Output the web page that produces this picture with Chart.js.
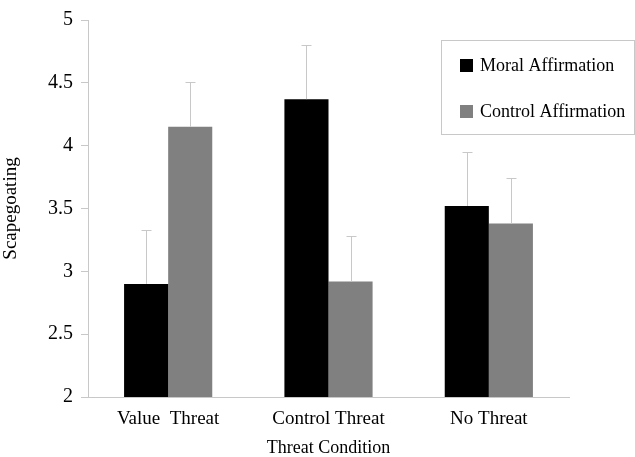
<!DOCTYPE html>
<html>
<head>
    <meta charset="UTF-8">
    <title>Scapegoating by Threat Condition</title>
    <script src="https://cdn.jsdelivr.net/npm/chart.js"></script>
    <style>
        html, body { margin: 0; padding: 0; background: #fff; }
        #wrap { width: 635px; height: 457px; }
    </style>
</head>
<body>
<div id="wrap"><canvas id="scapegoatChart" width="635" height="457"></canvas></div>
<script>
    // data
    var categories = ['Value  Threat', 'Control Threat', 'No Threat'];
    var moralMeans = [2.90, 4.37, 3.52];
    var moralUpper = [3.33, 4.80, 3.95];
    var controlMeans = [4.15, 2.92, 3.38];
    var controlUpper = [4.51, 3.28, 3.74];
    var yTicks = [2, 2.5, 3, 3.5, 4, 4.5, 5];

    var serif = '"Liberation Serif", "Times New Roman", serif';

    // upper error whiskers, drawn through the chart's scales
    var errorBars = {
        id: 'errorBars',
        afterDatasetsDraw: function(chart) {
            var ctx = chart.ctx;
            var y = chart.scales.y;
            var uppers = [moralUpper, controlUpper];
            ctx.save();
            ctx.strokeStyle = '#c8c8c8';
            ctx.lineWidth = 1;
            chart.data.datasets.forEach(function(ds, i) {
                var meta = chart.getDatasetMeta(i);
                meta.data.forEach(function(bar, j) {
                    var x = Math.round(bar.x) + 0.5;
                    var top = Math.round(y.getPixelForValue(uppers[i][j])) + 0.5;
                    ctx.beginPath();
                    ctx.moveTo(x, bar.y);
                    ctx.lineTo(x, top);
                    ctx.moveTo(x - 5, top);
                    ctx.lineTo(x + 5, top);
                    ctx.stroke();
                });
            });
            ctx.restore();
        }
    };

    // boxed legend in the upper right
    var boxLegend = {
        id: 'boxLegend',
        afterDraw: function(chart) {
            var ctx = chart.ctx;
            ctx.save();
            ctx.strokeStyle = '#c8c8c8';
            ctx.lineWidth = 1;
            ctx.strokeRect(441.5, 40.5, 193, 94);
            ctx.font = '18px ' + serif;
            ctx.textBaseline = 'middle';
            chart.data.datasets.forEach(function(ds, i) {
                var cy = 65 + i * 46;
                ctx.fillStyle = ds.backgroundColor;
                ctx.fillRect(460, cy - 6, 13, 13);
                ctx.fillStyle = '#000';
                ctx.fillText(ds.label, 480, cy + 1);
            });
            ctx.restore();
        }
    };

    var ctx = document.getElementById('scapegoatChart').getContext('2d');
    var scapegoatChart = new Chart(ctx, {
        type: 'bar',
        data: {
            labels: categories,
            datasets: [{
                label: 'Moral Affirmation',
                data: moralMeans,
                backgroundColor: '#000000',
                borderWidth: 0
            }, {
                label: 'Control Affirmation',
                data: controlMeans,
                backgroundColor: '#808080',
                borderWidth: 0
            }]
        },
        options: {
            responsive: false,
            animation: false,
            layout: {
                padding: { top: 20, right: 66, left: 0, bottom: 0 }
            },
            plugins: {
                legend: { display: false },
                tooltip: { enabled: false }
            },
            datasets: {
                bar: {
                    categoryPercentage: 0.55,
                    barPercentage: 1.0
                }
            },
            scales: {
                x: {
                    grid: { display: false, drawTicks: false },
                    border: { display: true, color: '#c8c8c8' },
                    ticks: {
                        color: '#000',
                        padding: 11,
                        font: { family: serif, size: 19 }
                    },
                    title: {
                        display: true,
                        text: 'Threat Condition',
                        color: '#000',
                        padding: { top: 7, bottom: 0 },
                        font: { family: serif, size: 18, lineHeight: 1 }
                    },
                    afterFit: function(scale) { scale.height = 60; }
                },
                y: {
                    min: 2,
                    max: 5,
                    afterBuildTicks: function(scale) {
                        scale.ticks = yTicks.map(function(v) { return { value: v }; });
                    },
                    grid: {
                        drawOnChartArea: false,
                        drawTicks: true,
                        tickLength: 7,
                        color: '#c8c8c8'
                    },
                    border: { display: true, color: '#c8c8c8' },
                    ticks: {
                        color: '#000',
                        padding: 8,
                        font: { family: serif, size: 20 },
                        callback: function(value) { return String(value); }
                    },
                    title: {
                        display: true,
                        text: 'Scapegoating',
                        color: '#000',
                        padding: { top: 0, bottom: 4 },
                        font: { family: serif, size: 19 }
                    },
                    afterFit: function(scale) { scale.width = 88; }
                }
            }
        },
        plugins: [errorBars, boxLegend]
    });
</script>
</body>
</html>
